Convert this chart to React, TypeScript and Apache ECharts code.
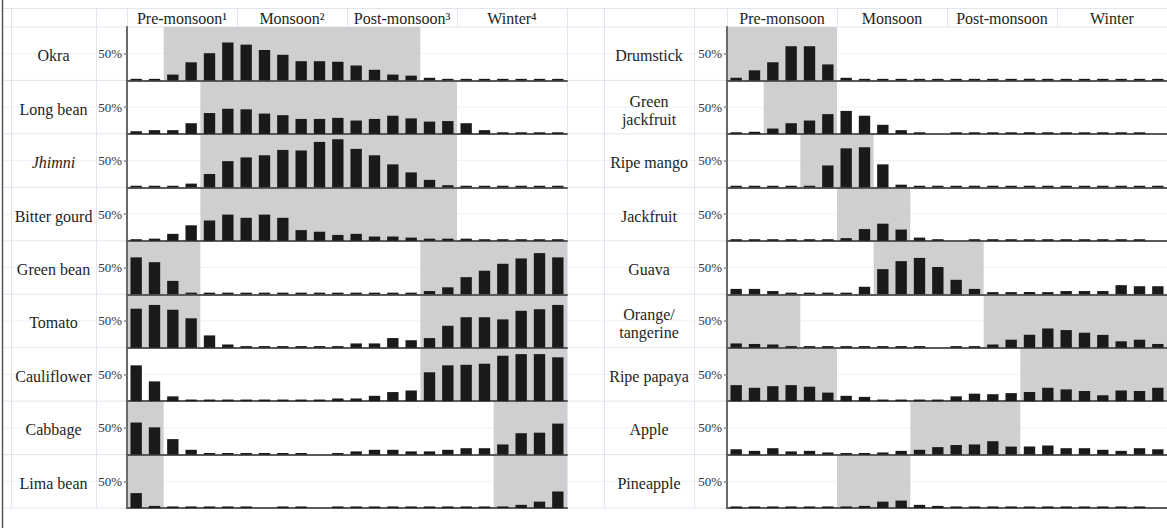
import React, { useEffect, useRef } from 'react';
import * as echarts from 'echarts';

// 24 half-month periods, March to February
const periods = [
  'Mar I', 'Mar II', 'Apr I', 'Apr II', 'May I', 'May II',
  'Jun I', 'Jun II', 'Jul I', 'Jul II', 'Aug I', 'Aug II',
  'Sep I', 'Sep II', 'Oct I', 'Oct II', 'Nov I', 'Nov II',
  'Dec I', 'Dec II', 'Jan I', 'Jan II', 'Feb I', 'Feb II',
];

const seasonLabelsLeft = ['Pre-monsoon\u00B9', 'Monsoon\u00B2', 'Post-monsoon\u00B3', 'Winter\u2074'];
const seasonLabelsRight = ['Pre-monsoon', 'Monsoon', 'Post-monsoon', 'Winter'];

const leftCrops = ['Okra', 'Long bean', 'Jhimni', 'Bitter gourd', 'Green bean', 'Tomato', 'Cauliflower', 'Cabbage', 'Lima bean'];
const rightCrops = ['Drumstick', 'Green\njackfruit', 'Ripe mango', 'Jackfruit', 'Guava', 'Orange/\ntangerine', 'Ripe papaya', 'Apple', 'Pineapple'];

// share of reports per half-month (%)
const okra = [3, 3, 11, 34, 51, 71, 67, 57, 48, 36, 36, 35, 28, 20, 11, 9, 5, 3, 3, 3, 3, 3, 3, 3];
const longBean = [5, 7, 7, 20, 39, 47, 46, 38, 35, 28, 28, 30, 25, 28, 34, 29, 23, 24, 20, 7, 3, 3, 3, 3];
const jhimni = [3, 3, 3, 7, 25, 49, 56, 60, 70, 69, 85, 90, 72, 60, 43, 28, 14, 4, 3, 3, 3, 3, 3, 3];
const bitterGourd = [3, 4, 13, 29, 38, 49, 43, 49, 43, 20, 17, 11, 13, 8, 8, 6, 4, 4, 4, 3, 3, 3, 3, 3];
const greenBean = [69, 60, 25, 3, 3, 3, 3, 3, 3, 3, 3, 3, 3, 3, 3, 3, 6, 13, 32, 44, 57, 67, 77, 69];
const tomato = [73, 80, 71, 55, 23, 6, 3, 3, 3, 3, 3, 3, 8, 8, 18, 14, 18, 41, 57, 57, 53, 69, 72, 80];
const cauliflower = [67, 37, 9, 3, 3, 3, 3, 3, 3, 3, 3, 5, 5, 10, 17, 20, 54, 67, 68, 70, 85, 88, 88, 82];
const cabbage = [60, 51, 29, 9, 3, 3, 3, 3, 3, 3, 0, 3, 6, 9, 9, 6, 6, 9, 12, 12, 19, 40, 41, 58];
const limaBean = [28, 4, 3, 3, 3, 3, 3, 0, 3, 3, 0, 3, 3, 3, 3, 3, 3, 3, 3, 3, 3, 6, 12, 31];

const drumstick = [5, 19, 34, 64, 64, 30, 5, 3, 3, 3, 3, 3, 3, 3, 3, 3, 3, 3, 3, 3, 3, 3, 3, 3];
const greenJackfruit = [3, 4, 10, 20, 25, 37, 43, 34, 17, 7, 3, 0, 3, 3, 3, 3, 3, 3, 3, 3, 3, 3, 3, 0];
const ripeMango = [3, 3, 3, 3, 3, 41, 73, 75, 43, 5, 3, 3, 3, 3, 3, 3, 3, 3, 3, 3, 3, 3, 3, 3];
const jackfruit = [3, 3, 3, 3, 3, 3, 5, 22, 32, 21, 6, 3, 0, 3, 3, 3, 3, 3, 3, 3, 3, 3, 3, 0];
const guava = [10, 10, 6, 3, 3, 3, 3, 14, 47, 62, 68, 51, 27, 10, 4, 4, 4, 4, 6, 6, 6, 17, 15, 15];
const orange = [8, 7, 6, 3, 3, 3, 3, 3, 3, 3, 3, 0, 3, 3, 6, 15, 24, 36, 33, 28, 24, 12, 15, 7];
const ripePapaya = [30, 25, 28, 30, 27, 16, 10, 8, 3, 3, 3, 3, 9, 14, 13, 15, 17, 25, 22, 19, 11, 20, 19, 25];
const apple = [10, 7, 12, 6, 7, 4, 3, 3, 4, 7, 9, 14, 18, 19, 25, 15, 15, 17, 12, 12, 9, 7, 12, 10];
const pineapple = [3, 3, 3, 3, 3, 3, 3, 4, 12, 14, 6, 4, 3, 3, 3, 3, 3, 3, 3, 3, 3, 3, 3, 0];

// harvest seasons as [start, end) period indices
const okraSeason = [[2, 16]];
const longBeanSeason = [[4, 18]];
const jhimniSeason = [[4, 18]];
const bitterGourdSeason = [[4, 18]];
const greenBeanSeason = [[0, 4], [16, 24]];
const tomatoSeason = [[0, 4], [16, 24]];
const cauliflowerSeason = [[16, 24]];
const cabbageSeason = [[0, 2], [20, 24]];
const limaBeanSeason = [[0, 2], [20, 24]];

const drumstickSeason = [[0, 6]];
const greenJackfruitSeason = [[2, 6]];
const ripeMangoSeason = [[4, 8]];
const jackfruitSeason = [[6, 10]];
const guavaSeason = [[8, 14]];
const orangeSeason = [[0, 4], [14, 24]];
const ripePapayaSeason = [[0, 6], [16, 24]];
const appleSeason = [[10, 16]];
const pineappleSeason = [[6, 10]];

const leftValues = [okra, longBean, jhimni, bitterGourd, greenBean, tomato, cauliflower, cabbage, limaBean];
const rightValues = [drumstick, greenJackfruit, ripeMango, jackfruit, guava, orange, ripePapaya, apple, pineapple];
const leftSeasons = [okraSeason, longBeanSeason, jhimniSeason, bitterGourdSeason, greenBeanSeason, tomatoSeason, cauliflowerSeason, cabbageSeason, limaBeanSeason];
const rightSeasons = [drumstickSeason, greenJackfruitSeason, ripeMangoSeason, jackfruitSeason, guavaSeason, orangeSeason, ripePapayaSeason, appleSeason, pineappleSeason];

// layout
const W = 1167;
const H = 530;
const HEAD_TOP = 8;
const ROW0 = 27;
const ROW_H = 53.45;
const PLOT_W = 440;
const FONT = '"Liberation Serif", "Times New Roman", serif';
const LIGHT = '#e0e6ef';

function buildOption() {
  const grids: any[] = [];
  const xAxes: any[] = [];
  const yAxes: any[] = [];
  const series: any[] = [];
  const graphics: any[] = [];

  const panels = [
    { plotX: 127, labelL: 11, labelR: 96, crops: leftCrops, values: leftValues, seasons: leftSeasons, heads: seasonLabelsLeft },
    { plotX: 727, labelL: 604, labelR: 694, crops: rightCrops, values: rightValues, seasons: rightSeasons, heads: seasonLabelsRight },
  ];
  const nRows = leftCrops.length;
  const bottom = ROW0 + nRows * ROW_H;

  graphics.push({ type: 'line', z: -1, shape: { x1: 3, y1: HEAD_TOP + 0.5, x2: W, y2: HEAD_TOP + 0.5 }, style: { stroke: LIGHT, lineWidth: 1 } });
  for (let k = 0; k <= nRows; k++) {
    const y = ROW0 + k * ROW_H;
    graphics.push({ type: 'line', z: -1, shape: { x1: 3, y1: y, x2: W, y2: y }, style: { stroke: LIGHT, lineWidth: 1 } });
    if (k < nRows) {
      const ym = y + ROW_H / 2;
      graphics.push({ type: 'line', z: -1, shape: { x1: 3, y1: ym, x2: W, y2: ym }, style: { stroke: '#edf1f6', lineWidth: 1 } });
    }
  }
  graphics.push({ type: 'line', z: 5, shape: { x1: 2.5, y1: 0, x2: 2.5, y2: 528 }, style: { stroke: '#555', lineWidth: 1.5 } });

  let gi = 0;
  panels.forEach((p) => {
    [p.labelL, p.labelR, p.plotX + PLOT_W].forEach((x) => {
      graphics.push({ type: 'line', z: -1, shape: { x1: x + 0.5, y1: HEAD_TOP, x2: x + 0.5, y2: bottom }, style: { stroke: LIGHT, lineWidth: 1 } });
    });
    const cellW = PLOT_W / p.heads.length;
    graphics.push({ type: 'line', z: -1, shape: { x1: p.plotX + 0.5, y1: HEAD_TOP, x2: p.plotX + 0.5, y2: ROW0 }, style: { stroke: LIGHT, lineWidth: 1 } });
    p.heads.forEach((h, i) => {
      const x0 = p.plotX + i * cellW;
      graphics.push({ type: 'line', z: -1, shape: { x1: x0 + cellW + 0.5, y1: HEAD_TOP, x2: x0 + cellW + 0.5, y2: ROW0 }, style: { stroke: LIGHT, lineWidth: 1 } });
      graphics.push({
        type: 'text', z: 6, x: x0 + cellW / 2, y: (HEAD_TOP + ROW0) / 2 + 1,
        style: { text: h, fill: '#1e1e1e', font: `16px ${FONT}`, textAlign: 'center', textVerticalAlign: 'middle' },
      });
    });

    p.crops.forEach((name, r) => {
      const top = ROW0 + r * ROW_H;
      const multi = name.indexOf('\n') >= 0;
      graphics.push({
        type: 'text', z: 6, x: (p.labelL + p.labelR) / 2, y: top + ROW_H / 2 + (multi ? 3 : 2),
        style: {
          text: name, fill: '#1e1e1e', textAlign: 'center', textVerticalAlign: 'middle', lineHeight: 18,
          font: `${name === 'Jhimni' ? 'italic ' : ''}16px ${FONT}`,
        },
      });

      grids.push({ left: p.plotX, top, width: PLOT_W, height: ROW_H, containLabel: false });
      xAxes.push({
        type: 'category', gridIndex: gi, data: periods, boundaryGap: true, z: 1.5,
        axisLine: { show: true, lineStyle: { color: '#5a5a5a', width: 2 } },
        axisTick: { show: false }, axisLabel: { show: false }, splitLine: { show: false },
      });
      xAxes.push({ type: 'value', gridIndex: gi, min: 0, max: periods.length, show: false });
      yAxes.push({
        type: 'value', gridIndex: gi, min: 0, max: 100, interval: 50, z: 1.5,
        axisLine: { show: true, lineStyle: { color: '#6a6a6a', width: 2 } },
        axisTick: { show: true, length: 3, customValues: [50], lineStyle: { color: '#8a8a8a', width: 1.5 } },
        splitLine: { show: false },
        axisLabel: {
          formatter: (v: number) => (v === 50 ? '50%' : ''),
          fontFamily: FONT, fontSize: 13, color: '#333', margin: 5, padding: [6, 0, 0, 0],
        },
      });
      series.push({
        type: 'line', xAxisIndex: 2 * gi + 1, yAxisIndex: gi, data: [[0, 0]], symbol: 'none',
        lineStyle: { opacity: 0 }, silent: true, z: 1,
        markArea: {
          silent: true, itemStyle: { color: '#cfcfd2', opacity: 1 },
          data: p.seasons[r].map(([a, b]) => [{ xAxis: a }, { xAxis: b }]),
        },
      });
      series.push({
        type: 'bar', name, xAxisIndex: 2 * gi, yAxisIndex: gi, data: p.values[r],
        barCategoryGap: '38%', itemStyle: { color: '#1a1a1a' }, z: 2, silent: true,
      });
      gi++;
    });
  });

  return {
    animation: false,
    backgroundColor: '#ffffff',
    grid: grids,
    xAxis: xAxes,
    yAxis: yAxes,
    series,
    graphic: { elements: graphics },
  };
}

export default function App() {
  const ref = useRef<HTMLDivElement>(null);
  useEffect(() => {
    document.body.style.margin = '0';
    if (!ref.current) return;
    const chart = echarts.init(ref.current, undefined, { renderer: 'svg' });
    chart.setOption(buildOption() as any);
    return () => chart.dispose();
  }, []);
  return <div ref={ref} style={{ position: 'absolute', left: 0, top: 0, width: W, height: H }} />;
}
